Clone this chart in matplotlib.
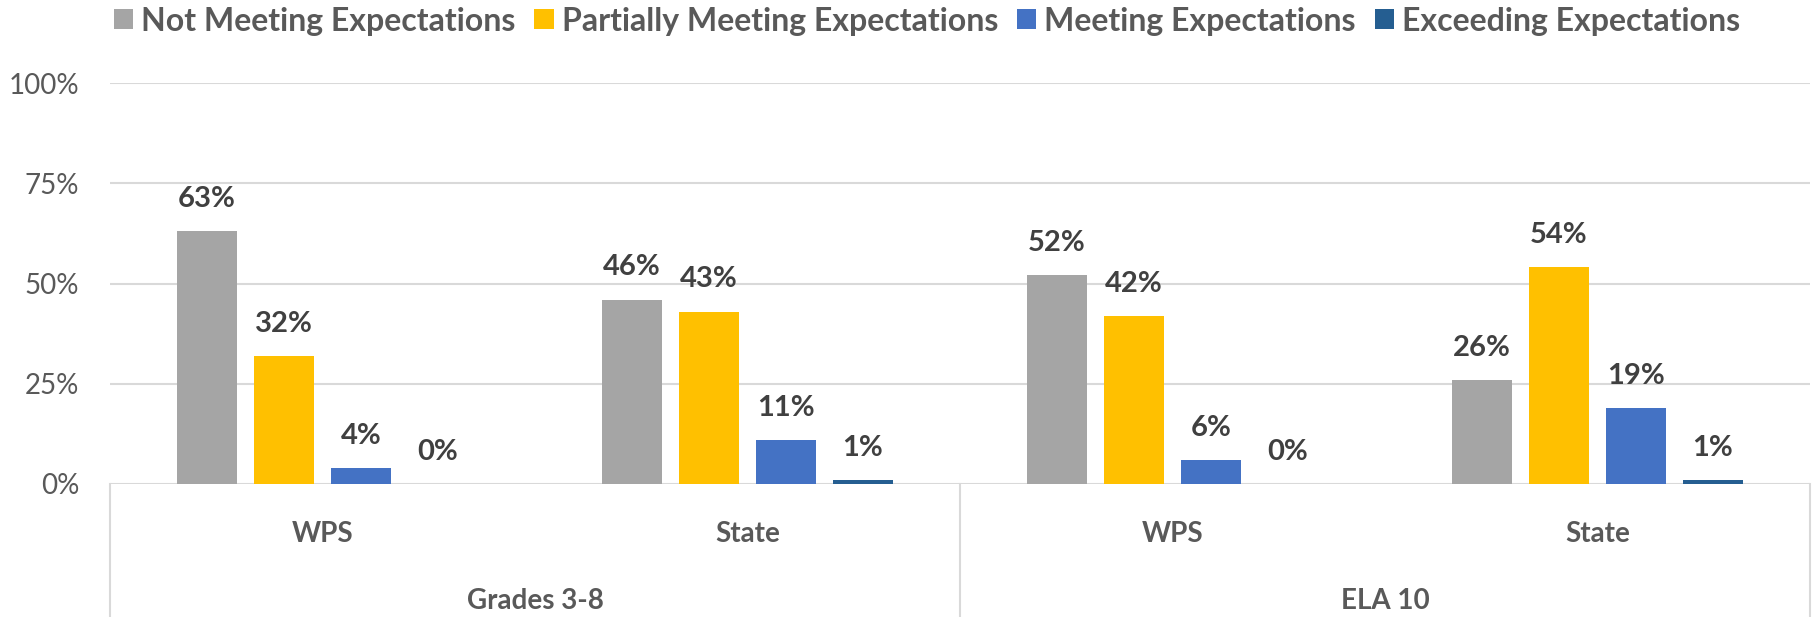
import numpy as np
import matplotlib.pyplot as plt

plt.rcParams['font.family'] = ['Lato', 'DejaVu Sans']

# data
groups = ["Grades 3-8", "ELA 10"]
sources = ["WPS", "State", "WPS", "State"]
series_names = ["Not Meeting Expectations", "Partially Meeting Expectations",
                "Meeting Expectations", "Exceeding Expectations"]
not_meeting = [63, 46, 52, 26]
partially = [32, 43, 42, 54]
meeting = [4, 11, 6, 19]
exceeding = [0, 1, 0, 1]
yticks = [0, 25, 50, 75, 100]

colors = ['#A5A5A5', '#FFC000', '#4472C4', '#255E91']
text_dark = '#404040'
text_gray = '#595959'
grid_col = '#D9D9D9'

W, H = 1812, 617
fig = plt.figure(figsize=(W / 100, H / 100), dpi=100)
ax = fig.add_axes([110 / W, (H - 484) / H, 1700 / W, 401 / H])

x = np.arange(len(sources)) + 0.5
step = 0.181
width = 0.141
all_series = [not_meeting, partially, meeting, exceeding]
for i, (vals, name, c) in enumerate(zip(all_series, series_names, colors)):
    xs = x + (i - 1.5) * step
    ax.bar(xs, vals, width, color=c, label=name, zorder=3)
    for xi, v in zip(xs, vals):
        ax.text(xi, v + 8, "{}%".format(v), ha='center', va='center',
                fontsize=21, fontweight='bold', color=text_dark)

ax.set_xlim(0, 4)
ax.set_ylim(0, 100)
ax.set_yticks(yticks)
ax.set_yticklabels(["{}%".format(t) for t in yticks], fontsize=20, color=text_gray)
ax.tick_params(axis='y', length=0, pad=22)
ax.set_xticks([])
for t in yticks:
    ax.axhline(t, color=grid_col, lw=1.5, zorder=1)
for s in ax.spines.values():
    s.set_visible(False)

# multi-level category axis below the plot
bottom = -133 / 401
trans = ax.get_xaxis_transform()
for xv in [0, 2, 4]:
    ax.plot([xv, xv], [0, bottom], color=grid_col, lw=1.5, transform=trans, clip_on=False)
for xi, s in zip(x, sources):
    ax.text(xi, -50 / 401, s, transform=trans, ha='center', va='center',
            fontsize=20, fontweight='bold', color=text_gray)
for gi, g in enumerate(groups):
    ax.text(2 * gi + 1, -117 / 401, g, transform=trans, ha='center', va='center',
            fontsize=20, fontweight='bold', color=text_gray)

leg = fig.legend(loc='center', bbox_to_anchor=(927 / W, 1 - 21 / H), ncol=4,
                 frameon=False, fontsize=23, handlelength=0.6, handleheight=0.6,
                 handletextpad=0.25, columnspacing=0.6)
for t in leg.get_texts():
    t.set_color(text_gray)
    t.set_fontweight('bold')

fig.savefig("out.png", dpi=100)
